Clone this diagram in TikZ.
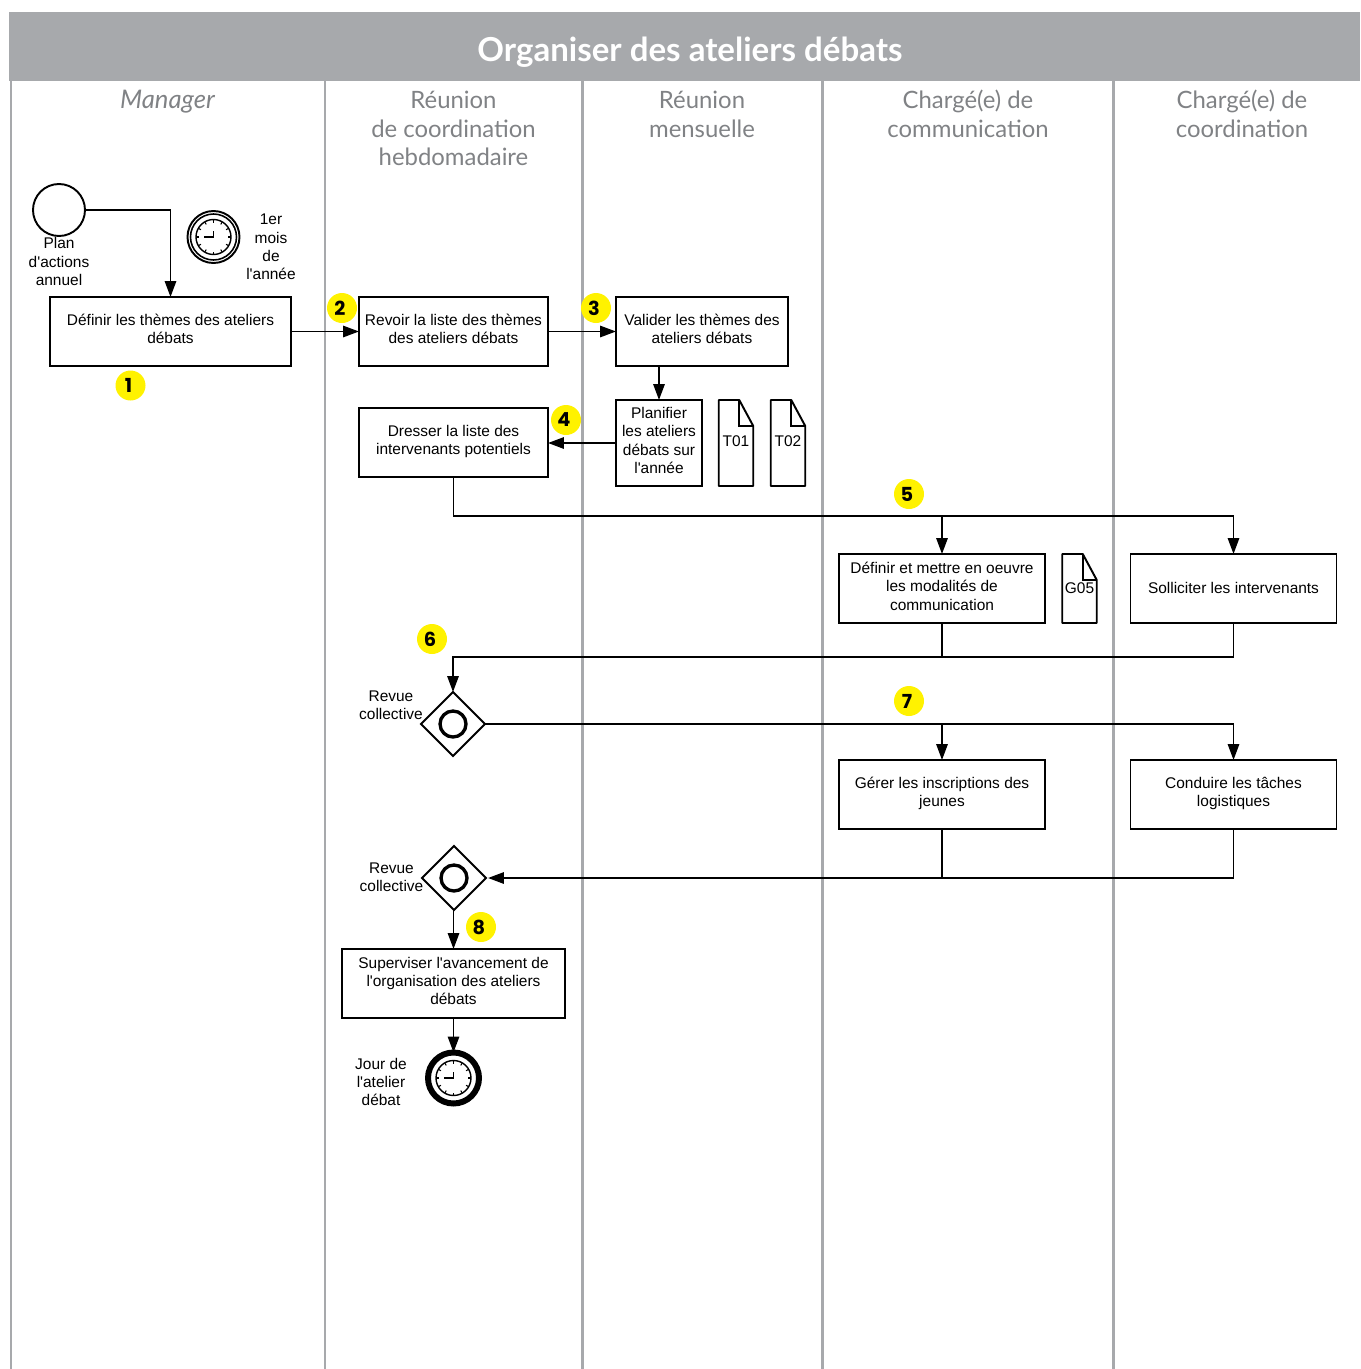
\documentclass[tikz,border=0pt]{standalone}
\usepackage{fontspec}
\setmainfont[Ligatures=TeXOff]{Liberation Sans}
\newfontfamily\headfont{Lato}
\newfontfamily\badgefont{Poppins}
\usetikzlibrary{arrows.meta,calc,shapes.geometric}
\definecolor{bandgray}{HTML}{A7A9AC}
\definecolor{headgray}{HTML}{808285}
\definecolor{badgeyellow}{HTML}{FFF200}

\tikzset{
	tache/.style={draw,line width=1.1pt,outer sep=0pt,inner sep=1pt,align=center,text depth=2.9pt,minimum height=69*0.02cm,minimum width=#1*0.02cm},
	docbox/.style 2 args={outer sep=0pt,inner sep=0pt,minimum width=#1*0.02cm,minimum height=#2*0.02cm},
	legende/.style={align=center,inner sep=0pt},
	flow/.style={line width=1.1pt,-{Triangle[length=9pt,width=6.4pt]}},
	lien/.style={line width=1.1pt},
	couloir/.style={draw=bandgray,line width=1.7pt},
	entete/.style={align=center,text=headgray,inner sep=0pt,font=\headfont\fontsize{13.6}{16.4}\selectfont},
	badge/.style={circle,fill=badgeyellow,minimum size=30*0.02cm,inner sep=0pt,font=\badgefont\bfseries\fontsize{11}{11}\selectfont},
	porte/.style={diamond,draw,line width=1.1pt,aspect=1,minimum size=64*0.02cm,inner sep=0pt,outer sep=0pt},
	rond/.style={circle,draw,line width=1.1pt,inner sep=0pt,outer sep=0pt,minimum size=#1*0.02cm}
}

% cadran d'horloge
\newcommand{\cadran}[1]{
	\draw[line width=0.8pt] (#1.center) circle (17.5);
	\foreach \a in {0,30,...,330}
	\draw[line width=0.6pt] ($(#1.center)+(\a:17.5)$) -- ($(#1.center)+(\a:14.5)$);
	\draw[line width=1pt] ($(#1.center)+(0,-6)$) -- (#1.center) -- ($(#1.center)+(-10,0)$);
}

% document avec coin plie
\newcommand{\feuille}[5]{
	\node[docbox={34.5}{#4}] (#1) at (#2,#3) {#5};
	\draw[line width=1.1pt,line join=round] (#1.south west) -- (#1.north west) -- ($(#1.north east)+(-14,0)$) -- ($(#1.north east)+(0,26)$) -- (#1.south east) -- cycle;
	\draw[line width=1.1pt] ($(#1.north east)+(-14,0)$) -- ($(#1.north east)+(-14,26)$) -- ($(#1.north east)+(0,26)$);
}

\begin{document}
\begin{tikzpicture}[x=0.02cm,y=-0.02cm,font=\fontsize{8.8}{10.45}\selectfont]
	\useasboundingbox (0,0) rectangle (1360,1369);

	% bandeau et couloirs
	\fill[bandgray] (9,12) rectangle (1360,81);
	\foreach \x in {11,325,582.5,822,1113}
	\draw[couloir] (\x,81) -- (\x,1369);

	\node[text=white,inner sep=0pt,font=\headfont\bfseries\fontsize{18.8}{20}\selectfont] (titre) at (690,52) {Organiser des ateliers débats};
	\node[entete,font=\headfont\itshape\fontsize{14.6}{16.4}\selectfont] (h1) at (167.5,101.5) {Manager};
	\node[entete] (h2) at (453.5,128.5) {Réunion\\de coordination\\hebdomadaire};
	\node[entete] (h3) at (702,114) {Réunion\\mensuelle};
	\node[entete] (h4) at (968,114) {Chargé(e) de\\communication};
	\node[entete] (h5) at (1242,114) {Chargé(e) de\\coordination};

	% taches
	\node[tache=241] (definir) at (170.5,331.5) {Définir les thèmes des ateliers\\débats};
	\node[tache=189] (revoir) at (453.5,331.5) {Revoir la liste des thèmes\\des ateliers débats};
	\node[tache=172] (valider) at (702,331.5) {Valider les thèmes des\\ateliers débats};
	\node[tache=86,minimum height=86*0.02cm] (planifier) at (659,443) {Planifier\\les ateliers\\débats sur\\l'année};
	\node[tache=189] (dresser) at (453.5,442.5) {Dresser la liste des\\intervenants potentiels};
	\node[tache=206] (modalites) at (942,588.5) {Définir et mettre en oeuvre\\les modalités de\\communication};
	\node[tache=206,text depth=1pt] (solliciter) at (1233.5,588.5) {Solliciter les intervenants};
	\node[tache=206] (inscriptions) at (942,794.5) {Gérer les inscriptions des\\jeunes};
	\node[tache=206] (logistique) at (1233.5,794.5) {Conduire les tâches\\logistiques};
	\node[tache=223] (superviser) at (453.5,983.5) {Superviser l'avancement de\\l'organisation des ateliers\\débats};

	% documents
	\feuille{t01}{736}{443}{86}{\raisebox{2pt}{T01}}
	\feuille{t02}{788}{443}{86}{\raisebox{2pt}{T02}}
	\feuille{g05}{1079.5}{588.5}{69}{G05}

	% evenements et portes
	\node[rond=52] (debut) at (59,210) {};
	\node[legende] (lplan) at (59,261.5) {Plan\\d'actions\\annuel};

	\node[rond=52] (horloge) at (213.5,237) {};
	\node[rond=46,line width=0.9pt] (horloge2) at (213.5,237) {};
	\cadran{horloge}
	\node[legende] (lmois) at (271,247) {1er\\mois\\de\\l'année};

	\node[porte] (revue1) at (453,724) {};
	\node[rond=26,line width=1.9pt] (o1) at (453,724) {};
	\node[legende] (lrevue1) at (391,705) {Revue\\collective};

	\node[porte] (revue2) at (454,878) {};
	\node[rond=26,line width=1.9pt] (o2) at (454,878) {};
	\node[legende] (lrevue2) at (391.5,877) {Revue\\collective};

	\node[rond=51,line width=3.4pt] (fin) at (453.5,1078) {};
	\cadran{fin}
	\node[legende] (ljour) at (381,1082) {Jour de\\l'atelier\\débat};

	% rails
	\coordinate (rail5) at (0,516);
	\coordinate (rail6) at (0,657);
	\coordinate (rail7) at (0,724);
	\coordinate (rail8) at (0,878);

	% connecteurs
	\draw[flow] (debut) -| (definir);
	\draw[flow] (definir) -- (revoir);
	\draw[flow] (revoir) -- (valider);
	\draw[flow] (valider.south -| planifier) -- (planifier);
	\draw[flow] (planifier) -- (dresser.east |- planifier);

	\draw[flow] (dresser) |- (rail5 -| modalites) -- (modalites);
	\draw[flow] (rail5 -| modalites) -| (solliciter);

	\draw[lien] (modalites) -- (rail6 -| modalites);
	\draw[flow] (solliciter) |- (rail6 -| revue1) -- (revue1);

	\draw[flow] (revue1) -| (inscriptions);
	\draw[flow] (rail7 -| inscriptions) -| (logistique);

	\draw[lien] (inscriptions) -- (rail8 -| inscriptions);
	\draw[flow] (logistique) |- ($(revue2.east)+(2,0)$);

	\draw[flow] (revue2.south -| superviser) -- (superviser);
	\draw[flow] (superviser) -- (fin.north -| superviser);

	% pastilles
	\foreach \n/\x/\y in {1/130.5/385.5,2/342/308,3/596/308,4/566/420,5/909/494,6/432/639,7/909/701,8/481/927}
	\node[badge] (b\n) at (\x,\y) {\hspace*{-2.3pt}\n};
\end{tikzpicture}
\end{document}
